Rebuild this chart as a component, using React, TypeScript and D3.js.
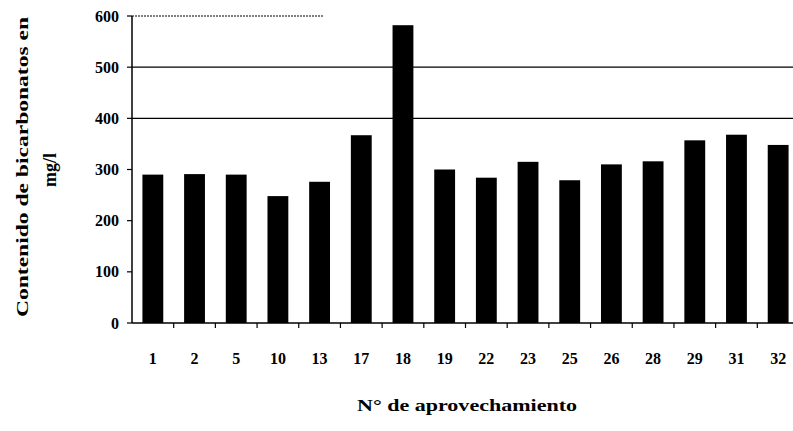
import React from "react";
import * as d3 from "d3";

const categories = ["1", "2", "5", "10", "13", "17", "18", "19", "22", "23", "25", "26", "28", "29", "31", "32"];
const values = [290, 291, 290, 248, 276, 367, 582, 300, 284, 315, 279, 310, 316, 357, 368, 348];
const yTicks = [0, 100, 200, 300, 400, 500, 600];
const gridValues = [400, 500];
const yTitleLine1 = "Contenido de bicarbonatos en";
const yTitleLine2 = "mg/l";
const xTitle = "N° de aprovechamiento";

export default function App() {
  const W = 793, H = 431;
  const x0 = 132, x1 = 799;
  const yTop = 16, yBottom = 323;
  const x = d3.scaleBand<string>().domain(categories).range([x0, x1]).paddingInner(0.5).paddingOuter(0.25);
  const y = d3.scaleLinear().domain([0, 600]).range([yBottom, yTop]);
  const step = x.step();
  const font = "Liberation Serif";
  return (
    <svg width={W} height={H} style={{ position: "absolute", left: 0, top: 0, background: "#fff" }}>
      <rect x={0} y={0} width={W} height={H} fill="#fff" />
      {gridValues.map((v) => (
        <line key={v} x1={x0} x2={W} y1={y(v)} y2={y(v)} stroke="#000" strokeWidth={1.2} />
      ))}
      <line x1={x0} x2={323} y1={y(600)} y2={y(600)} stroke="#000" strokeWidth={1.2} strokeDasharray="2 1" />
      {categories.map((c, i) => (
        <rect key={c} x={x(c)} y={y(values[i])} width={x.bandwidth()} height={yBottom - y(values[i])} fill="#000" />
      ))}
      <line x1={x0} x2={x0} y1={yTop} y2={yBottom} stroke="#000" strokeWidth={1.5} />
      <line x1={x0} x2={W} y1={yBottom} y2={yBottom} stroke="#000" strokeWidth={1.5} />
      {yTicks.map((t) => (
        <g key={t}>
          <line x1={x0 - 5} x2={x0} y1={y(t)} y2={y(t)} stroke="#000" strokeWidth={1.2} />
          <text x={119} y={y(t)} dy="0.35em" textAnchor="end" fontFamily={font} fontWeight="bold" fontSize={16}>
            {t}
          </text>
        </g>
      ))}
      {categories.map((c, i) => (
        <line key={"t" + c} x1={x0 + step * (i + 1)} x2={x0 + step * (i + 1)} y1={yBottom} y2={yBottom + 5} stroke="#000" strokeWidth={1.2} />
      ))}
      {categories.map((c) => (
        <text key={"l" + c} x={x(c)! + x.bandwidth() / 2} y={358} dy="0.35em" textAnchor="middle" fontFamily={font} fontWeight="bold" fontSize={16}>
          {c}
        </text>
      ))}
      <text x={467} y={411} textAnchor="middle" fontFamily={font} fontWeight="bold" fontSize={17} textLength={220} lengthAdjust="spacingAndGlyphs">
        {xTitle}
      </text>
      <g transform="translate(22,167) rotate(-90)">
        <text x={0} y={0} dy="0.35em" textAnchor="middle" fontFamily={font} fontWeight="bold" fontSize={17} textLength={300} lengthAdjust="spacingAndGlyphs">
          {yTitleLine1}
        </text>
      </g>
      <g transform="translate(50,170) rotate(-90)">
        <text x={0} y={0} dy="0.35em" textAnchor="middle" fontFamily={font} fontWeight="bold" fontSize={18}>
          {yTitleLine2}
        </text>
      </g>
    </svg>
  );
}
